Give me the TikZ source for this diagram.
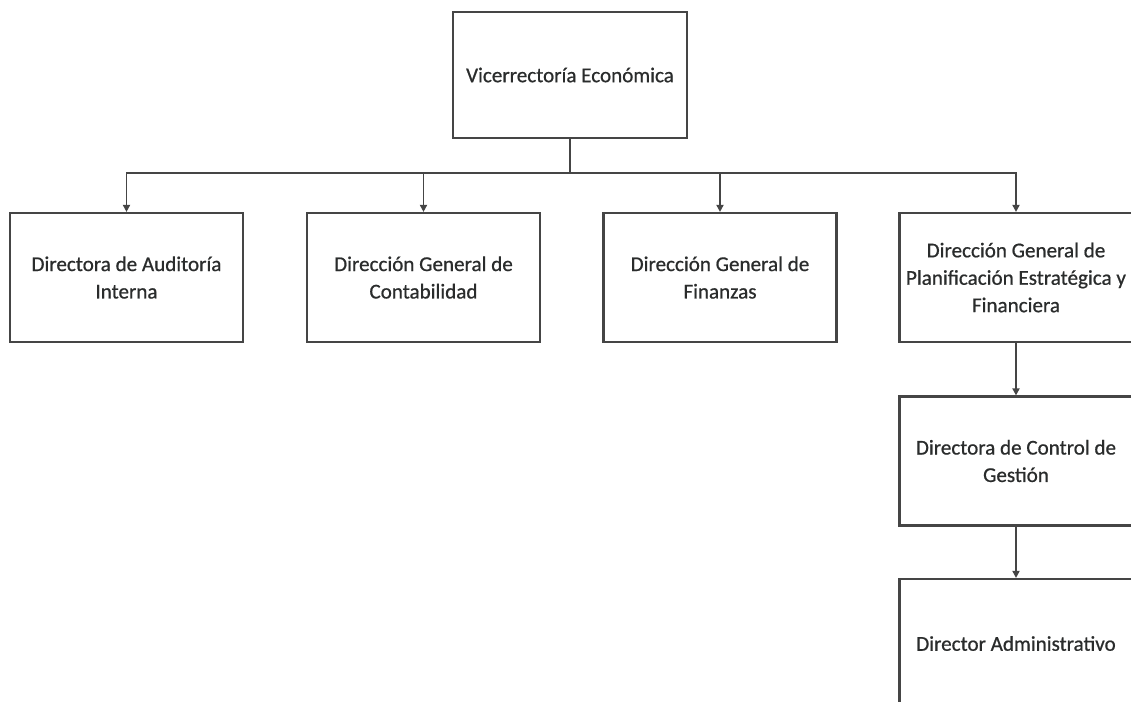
\documentclass[tikz,border=0pt]{standalone}
\usepackage{fontspec}
\setmainfont{Carlito}
\newfontfamily\boxfont{Carlito}[FakeBold=0.7]
\usetikzlibrary{arrows.meta}
\definecolor{linegray}{HTML}{454545}
\definecolor{textgray}{HTML}{2A2C2C}
\tikzset{
  unitbox/.style={draw=linegray,line width=1.5pt,fill=white,align=center,
    text=textgray,minimum width=5.825cm,minimum height=3.225cm,inner sep=2pt},
  link/.style={draw=linegray,line width=1.2pt,-{Triangle[length=5pt,width=5pt]}}
}
\begin{document}
\begin{tikzpicture}[x=0.025cm,y=-0.025cm,font=\boxfont\fontsize{15}{19.5}\selectfont]
\useasboundingbox (0,0) rectangle (1131,702);
\clip (0,0) rectangle (1131,702);
% top level
\node[unitbox,minimum width=5.85cm,minimum height=3.15cm] (vr) at (570,75) {Vicerrectoría Económica};
% second level
\node[unitbox] (aud)  at (126.5,277.5) {Directora de Auditoría\\Interna};
\node[unitbox] (cont) at (423.5,277.5) {Dirección General de\\Contabilidad};
\node[unitbox] (fin)  at (720,277.5)   {Dirección General de\\Finanzas};
\node[unitbox] (plan) at (1016,277.5)  {Dirección General de\\Planificación Estratégica y\\Financiera};
% under planificación
\node[unitbox] (ctrl) at (1016,461)    {Directora de Control de\\Gestión};
\node[unitbox] (adm)  at (1016,643.5)  {Director Administrativo};
\coordinate (bus) at (570,173);
\foreach \n in {aud,cont,fin,plan}
  \draw[link] (vr.south) |- (bus -| \n.north) -- (\n.north);
\draw[link] (plan.south) -- (ctrl.north);
\draw[link] (ctrl.south) -- (adm.north);
\end{tikzpicture}
\end{document}
